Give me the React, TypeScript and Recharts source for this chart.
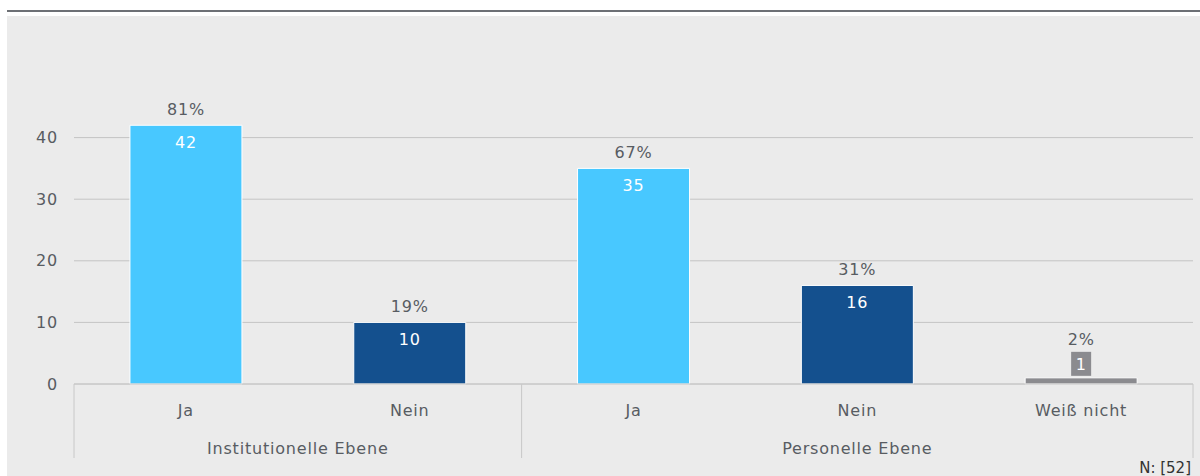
import { BarChart, Bar, XAxis, YAxis, CartesianGrid, Cell, LabelList } from 'recharts'

const categories = ['Ja', 'Nein', 'Ja', 'Nein', 'Weiß nicht']
const groups = ['Institutionelle Ebene', 'Institutionelle Ebene', 'Personelle Ebene', 'Personelle Ebene', 'Personelle Ebene']
const counts = [42, 10, 35, 16, 1]
const percents = [81, 19, 67, 31, 2]
const yTicks = [0, 10, 20, 30, 40]

const COLORS: Record<string, string> = {
  Ja: '#48c8ff',
  Nein: '#14508e',
  'Weiß nicht': '#8b8b8f',
}

const TEXT = '#585c62'
const FONT = '"DejaVu Sans", "Noto Sans", sans-serif'

const W = 1193
const H = 460
const MARGIN = { top: 60, right: 7, left: 0, bottom: 0 }
const Y_W = 67
const X_H = 92
const PLOT_W = W - MARGIN.right - Y_W
const BAND = PLOT_W / categories.length

const data = categories.map((name, i) => ({
  name,
  group: groups[i],
  value: counts[i],
  pct: percents[i],
}))

const labelStyle = { fontSize: 16, fontFamily: FONT, letterSpacing: 0.8 }

function CategoryTick(props: any) {
  const { x, y, payload, index } = props
  const i = index ?? payload.index
  const cat = categories[i]
  const grp = groups[i]
  const isFirst = i === 0 || groups[i - 1] !== grp
  const isLast = i === categories.length - 1
  let groupLabel = null
  if (isFirst) {
    const count = groups.filter((g) => g === grp).length
    const left = x - BAND / 2
    groupLabel = (
      <>
        <line x1={left} y1={y} x2={left} y2={y + 74} stroke="#c8c8c8" strokeWidth={1} />
        <text x={left + (count * BAND) / 2} y={y + 70} textAnchor="middle" fill={TEXT} style={labelStyle}>
          {grp}
        </text>
      </>
    )
  }
  return (
    <g>
      {groupLabel}
      {isLast && <line x1={x + BAND / 2} y1={y} x2={x + BAND / 2} y2={y + 74} stroke="#c8c8c8" strokeWidth={1} />}
      <text x={x} y={y + 32} textAnchor="middle" fill={TEXT} style={labelStyle}>
        {cat}
      </text>
    </g>
  )
}

function BarLabels(props: any) {
  const { x, y, width, height, index } = props
  const d = data[index]
  const cx = x + width / 2
  if (height < 20) {
    const boxTop = y - 26
    return (
      <g>
        <rect x={cx - 10} y={boxTop} width={20} height={24} fill="#8b8b8f" />
        <text x={cx} y={boxTop + 18} textAnchor="middle" fill="#fff" style={labelStyle}>
          {d.value}
        </text>
        <text x={cx} y={boxTop - 7} textAnchor="middle" fill={TEXT} style={labelStyle}>
          {d.pct}%
        </text>
      </g>
    )
  }
  return (
    <g>
      <text x={cx} y={y - 10} textAnchor="middle" fill={TEXT} style={labelStyle}>
        {d.pct}%
      </text>
      <text x={cx} y={y + 23} textAnchor="middle" fill="#fff" style={labelStyle}>
        {d.value}
      </text>
    </g>
  )
}

export default function App() {
  return (
    <div style={{ position: 'absolute', left: 0, top: 0, width: 1200, height: 476, background: '#fff', overflow: 'hidden', fontFamily: FONT }}>
      <div style={{ position: 'absolute', left: 7, top: 10, width: 1193, height: 2, background: '#6d7075' }} />
      <div style={{ position: 'absolute', left: 7, top: 16, width: W, height: H, background: '#ebebeb' }}>
        <BarChart width={W} height={H} data={data} margin={MARGIN} barCategoryGap="25%">
          <CartesianGrid horizontal vertical={false} stroke="#c4c4c4" horizontalValues={yTicks} />
          <XAxis
            dataKey="name"
            interval={0}
            height={X_H}
            tickLine={false}
            tickSize={0}
            tickMargin={0}
            axisLine={{ stroke: '#c8c8c8' }}
            tick={<CategoryTick />}
          />
          <YAxis
            width={Y_W}
            domain={[0, 50]}
            ticks={yTicks}
            axisLine={false}
            tickLine={false}
            tickSize={0}
            tickMargin={16}
            tick={{ fill: TEXT, fontSize: 16, fontFamily: FONT, letterSpacing: 0.8 }}
          />
          <Bar dataKey="value" isAnimationActive={false} stroke="#fff" strokeWidth={1}>
            {data.map((d, i) => (
              <Cell key={i} fill={COLORS[d.name]} />
            ))}
            <LabelList dataKey="value" content={<BarLabels />} />
          </Bar>
        </BarChart>
        <div style={{ position: 'absolute', right: 9, bottom: 0, fontSize: 15, lineHeight: '16px', color: '#333', fontFamily: FONT }}>N: [52]</div>
      </div>
    </div>
  )
}
